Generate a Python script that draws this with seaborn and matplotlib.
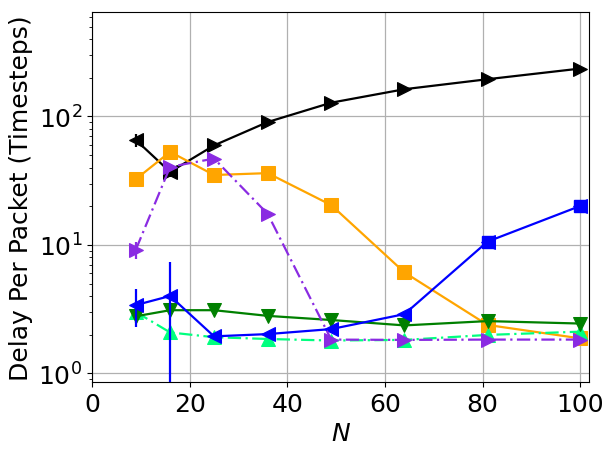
import matplotlib
matplotlib.use("Agg")
import matplotlib.pyplot as plt
import seaborn as sns
import numpy as np
import pandas as pd

N = [9, 16, 25, 36, 49, 64, 81, 100]

black_left_x = [9, 16]
black_left = [65.5, 37.0]
black_left_err = [8.0, 3.0]
black_right_x = [16, 25, 36, 49, 64, 81, 100]
black_right = [37.0, 59.5, 90.5, 128.0, 163.0, 195.0, 236.0]

orange = [32.5, 53.0, 35.0, 36.2, 20.4, 6.1, 2.38, 1.87]
mint = [3.0, 2.08, 1.91, 1.85, 1.80, 1.82, 1.99, 2.11]
green = [2.78, 3.1, 3.1, 2.8, 2.6, 2.36, 2.55, 2.44]
green_err = [0.3, 0, 0, 0, 0, 0, 0, 0]
blue = [3.4, 4.0, 1.94, 2.02, 2.21, 2.89, 10.6, 20.1]
blue_err = [1.1, 3.3, 0, 0, 0, 0, 0, 0]
blue_sq_x = [81, 100]
blue_sq = [10.6, 20.1]
purple = [9.2, 40.5, 47.0, 17.4, 1.83, 1.82, 1.83, 1.83]
purple_err = [1.4, 0, 0, 0, 0, 0, 0, 0]

fig = plt.figure(figsize=(6.13, 4.56), dpi=100)
ax = fig.add_axes([0.150, 0.160, 0.811, 0.811])

ms = 10
lw = 1.6

def series(x, y, color, marker, ls="-", z=2):
    df = pd.DataFrame({"x": x, "y": y})
    sns.lineplot(data=df, x="x", y="y", ax=ax, color=color, marker=marker,
                 markersize=ms, linewidth=lw, linestyle=ls, markeredgecolor=color,
                 zorder=z, errorbar=None, sort=False)

series(black_left_x, black_left, "black", "<", z=2)
ax.errorbar(black_left_x, black_left, yerr=black_left_err, fmt="none", ecolor="black", elinewidth=lw, zorder=2)
series(black_right_x, black_right, "black", ">", z=2)
series(N, orange, "orange", "s", z=3)
series(N, mint, "springgreen", "^", ls=(0, (6, 2, 1, 2)), z=4)
series(N, green, "green", "v", z=5)
ax.errorbar(N, green, yerr=green_err, fmt="none", ecolor="green", elinewidth=lw, zorder=5)
series(N, blue, "blue", "<", z=6)
ax.errorbar(N, blue, yerr=blue_err, fmt="none", ecolor="blue", elinewidth=lw, zorder=6)
ax.plot(blue_sq_x, blue_sq, linestyle="none", marker="s", markersize=8, color="blue", zorder=6)
series(N, purple, "blueviolet", ">", ls=(0, (6, 2, 1, 2)), z=7)
ax.errorbar(N, purple, yerr=purple_err, fmt="none", ecolor="blueviolet", elinewidth=lw, zorder=7)

ax.set_yscale("log")
ax.set_xlim(0, 101.8)
ax.set_ylim(0.855, 648)
ax.grid(True, which="major", color="#b0b0b0", linewidth=0.9)
ax.set_axisbelow(True)
ax.set_xlabel("$N$", fontsize=18)
ax.set_ylabel("Delay Per Packet (Timesteps)", fontsize=18)
ax.tick_params(axis="both", which="major", labelsize=18)
ax.set_xticks([0, 20, 40, 60, 80, 100])

fig.savefig("out.png", dpi=100)
